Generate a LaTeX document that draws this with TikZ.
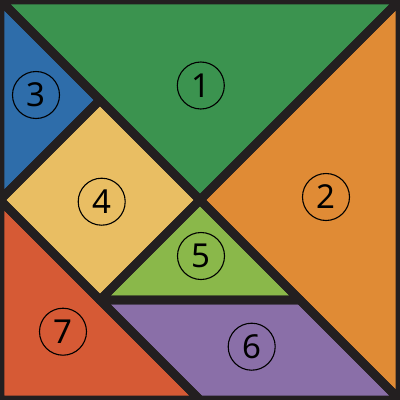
\documentclass[tikz,border=0pt]{standalone}
\usepackage{fontspec}
\setmainfont{Noto Sans}
\definecolor{dark}{HTML}{231F20}
\definecolor{cA}{HTML}{3B934F}
\definecolor{cB}{HTML}{E08B35}
\definecolor{cC}{HTML}{2E6DAA}
\definecolor{cD}{HTML}{E9BE63}
\definecolor{cE}{HTML}{8AB84A}
\definecolor{cF}{HTML}{8A6FA8}
\definecolor{cG}{HTML}{D65A35}
\begin{document}
\begin{tikzpicture}[x=1pt,y=-1pt,
  piece/.style={line width=8.8pt, draw=dark, line join=round},
  lbl/.style={circle, draw=black, line width=1.1pt, minimum size=47pt, inner sep=0pt, text=black, font=\fontsize{33}{33}\selectfont}]
\useasboundingbox (0,0) rectangle (400,400);
\fill[dark] (0,0) rectangle (400,400);
\begin{scope}
\clip (0,0) rectangle (400,400);
\fill[cA] (0,0) -- (400,0) -- (200,200) -- cycle;
\fill[cB] (400,0) -- (400,400) -- (200,200) -- cycle;
\fill[cC] (0,0) -- (100,100) -- (0,200) -- cycle;
\fill[cD] (100,100) -- (200,200) -- (100,300) -- (0,200) -- cycle;
\fill[cE] (200,200) -- (300,300) -- (100,300) -- cycle;
\fill[cF] (100,300) -- (300,300) -- (400,400) -- (200,400) -- cycle;
\fill[cG] (0,200) -- (200,400) -- (0,400) -- cycle;
\draw[piece] (0,0) -- (400,0) -- (200,200) -- cycle;
\draw[piece] (400,0) -- (400,400) -- (200,200) -- cycle;
\draw[piece] (0,0) -- (100,100) -- (0,200) -- cycle;
\draw[piece] (100,100) -- (200,200) -- (100,300) -- (0,200) -- cycle;
\draw[piece] (200,200) -- (300,300) -- (100,300) -- cycle;
\draw[piece] (100,300) -- (300,300) -- (400,400) -- (200,400) -- cycle;
\draw[piece] (0,200) -- (200,400) -- (0,400) -- cycle;
\end{scope}
\node[lbl] (n1) at (200.8,85.5) {1};
\node[lbl] (n2) at (326,197) {2};
\node[lbl] (n3) at (36,95) {3};
\node[lbl] (n4) at (101.7,201.7) {4};
\node[lbl] (n5) at (201,256) {5};
\node[lbl] (n6) at (251.7,346.7) {6};
\node[lbl] (n7) at (63,331.7) {7};
\end{tikzpicture}
\end{document}
